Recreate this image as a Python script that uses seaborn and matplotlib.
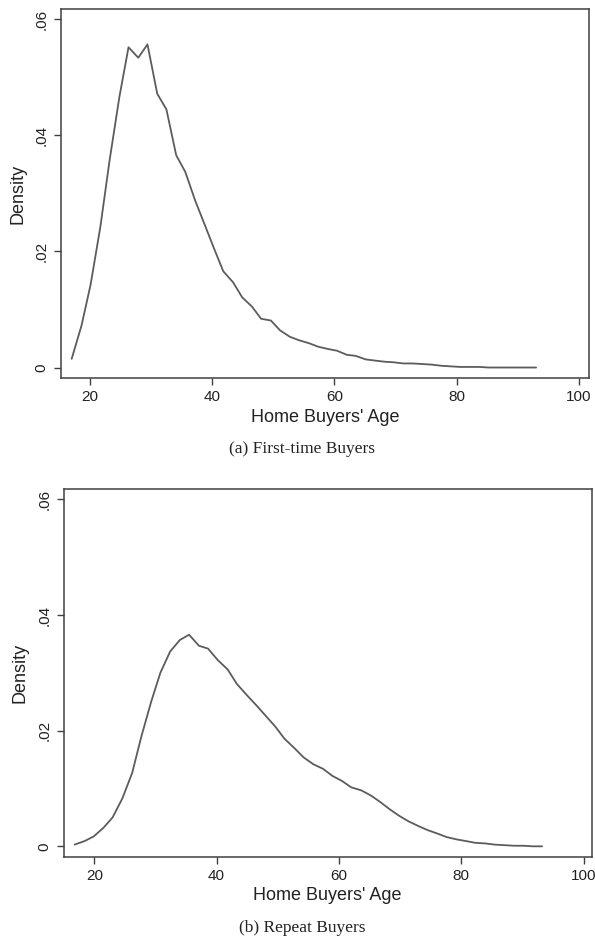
import pandas as pd
import seaborn as sns
import matplotlib.pyplot as plt

# kdensity curves of buyer age (50 grid points each)
first_age = [17.0, 18.6, 20.1, 21.7, 23.2, 24.8, 26.3, 27.9, 29.4, 31.0,
             32.5, 34.1, 35.6, 37.2, 38.7, 40.3, 41.8, 43.4, 44.9, 46.5,
             48.0, 49.6, 51.1, 52.7, 54.2, 55.8, 57.3, 58.9, 60.4, 62.0,
             63.5, 65.1, 66.6, 68.2, 69.7, 71.3, 72.8, 74.4, 75.9, 77.5,
             79.0, 80.6, 82.1, 83.7, 85.2, 86.8, 88.3, 89.9, 91.4, 93.0]
first_density = [0.0015, 0.0072, 0.0143, 0.0243, 0.0357, 0.0466, 0.0552, 0.0534, 0.0557, 0.0472,
                 0.0445, 0.0366, 0.0337, 0.0288, 0.0248, 0.0205, 0.0166, 0.0147, 0.0121, 0.0105,
                 0.0084, 0.0081, 0.0064, 0.0053, 0.0047, 0.0042, 0.0036, 0.0032, 0.0029, 0.0022,
                 0.0020, 0.0014, 0.0012, 0.0010, 0.0009, 0.0007, 0.0007, 0.0006, 0.0005, 0.0003,
                 0.0002, 0.0001, 0.0001, 0.0001, 0.0000, 0.0000, 0.0000, 0.0000, 0.0000, 0.0000]

repeat_age = [16.8, 18.4, 19.9, 21.5, 23.0, 24.6, 26.2, 27.7, 29.3, 30.8,
              32.4, 34.0, 35.5, 37.1, 38.6, 40.2, 41.8, 43.3, 44.9, 46.4,
              48.0, 49.6, 51.1, 52.7, 54.2, 55.8, 57.4, 58.9, 60.5, 62.0,
              63.6, 65.2, 66.7, 68.3, 69.8, 71.4, 73.0, 74.5, 76.1, 77.6,
              79.2, 80.8, 82.3, 83.9, 85.4, 87.0, 88.6, 90.1, 91.7, 93.2]
repeat_density = [0.0003, 0.0009, 0.0017, 0.0032, 0.0050, 0.0083, 0.0127, 0.0190, 0.0250, 0.0300,
                  0.0337, 0.0357, 0.0366, 0.0347, 0.0342, 0.0322, 0.0306, 0.0281, 0.0262, 0.0245,
                  0.0226, 0.0207, 0.0186, 0.0170, 0.0154, 0.0142, 0.0134, 0.0122, 0.0113, 0.0102,
                  0.0097, 0.0088, 0.0077, 0.0064, 0.0053, 0.0043, 0.0035, 0.0028, 0.0022, 0.0016,
                  0.0012, 0.0009, 0.0006, 0.0005, 0.0003, 0.0002, 0.0001, 0.0001, 0.0000, 0.0000]

age_ticks = [20, 40, 60, 80, 100]
density_ticks = [0, 0.02, 0.04, 0.06]
density_labels = ['0', '.02', '.04', '.06']

sns.set_style('ticks')
plt.rcParams['font.family'] = ['Liberation Sans', 'DejaVu Sans']

line_col = '#5c5c5c'
axis_col = '#404040'


def density_panel(ax, age, dens, xlim, caption, cap_y):
    d = pd.DataFrame({'age': age, 'density': dens})
    sns.lineplot(data=d, x='age', y='density', ax=ax, color=line_col,
                 linewidth=1.3, estimator=None, sort=False)
    ax.set_xlim(*xlim)
    ax.set_ylim(-0.0018, 0.0618)
    ax.set_xticks(age_ticks)
    ax.set_yticks(density_ticks)
    ax.set_yticklabels(density_labels, rotation=90, va='center')
    ax.tick_params(length=5, width=1, color=axis_col, pad=4,
                   labelsize=11, labelcolor='#222222')
    for s in ax.spines.values():
        s.set_color(axis_col)
        s.set_linewidth(1.1)
    ax.set_xlabel("Home Buyers' Age", fontsize=13, color='#222222', labelpad=3)
    ax.set_ylabel('Density', fontsize=13, color='#222222', labelpad=6)
    ax.figure.text(0.508, cap_y, caption, ha='center', va='baseline',
                   fontsize=12.5, color='#222222',
                   family=['Liberation Serif', 'DejaVu Serif'])


fig = plt.figure(figsize=(5.95, 9.36), dpi=100)
ax1 = fig.add_axes([0.1025, 0.5962, 0.8874, 0.3942])
ax2 = fig.add_axes([0.107, 0.0847, 0.8874, 0.3928])

density_panel(ax1, first_age, first_density, (15.25, 101.65),
              '(a) First-time Buyers', 0.5163)
density_panel(ax2, repeat_age, repeat_density, (15.0, 101.3),
              '(b) Repeat Buyers', 0.0046)

fig.savefig('out.png', dpi=100)
